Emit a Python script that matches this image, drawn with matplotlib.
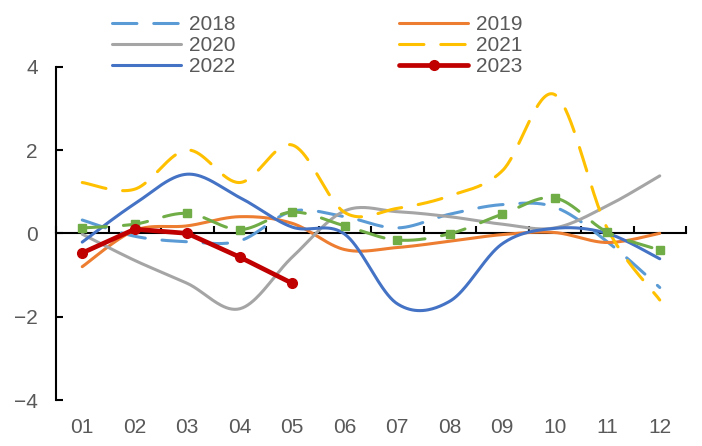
import numpy as np
import matplotlib
matplotlib.use("Agg")
import matplotlib.pyplot as plt

months = ['01', '02', '03', '04', '05', '06', '07', '08', '09', '10', '11', '12']
y2018 = [0.32, -0.07, -0.20, -0.18, 0.53, 0.40, 0.13, 0.46, 0.69, 0.63, -0.20, -1.30]
y2019 = [-0.80, 0.07, 0.18, 0.40, 0.24, -0.39, -0.34, -0.19, -0.03, 0.02, -0.22, 0.00]
y2020 = [-0.02, -0.65, -1.20, -1.81, -0.57, 0.54, 0.52, 0.40, 0.22, 0.13, 0.66, 1.38]
y2021 = [1.22, 1.06, 2.00, 1.22, 2.12, 0.50, 0.60, 0.90, 1.50, 3.33, 0.12, -1.60]
y2022 = [-0.21, 0.71, 1.42, 0.86, 0.15, -0.02, -1.69, -1.63, -0.25, 0.12, 0.00, -0.61]
y2023 = [-0.47, 0.10, 0.00, -0.57, -1.20]
yavg = [0.13, 0.22, 0.48, 0.09, 0.51, 0.18, -0.16, -0.01, 0.46, 0.85, 0.03, -0.40]
yticks = [-4, -2, 0, 2, 4]

plt.rcParams['font.family'] = ['Liberation Sans', 'DejaVu Sans']


def smooth(x, y, n=40):
    P = np.column_stack([np.asarray(x, float), np.asarray(y, float)])
    out = []
    t = np.linspace(0, 1, n)[:, None]
    for i in range(len(P) - 1):
        p0 = P[i - 1] if i > 0 else P[i]
        p1, p2 = P[i], P[i + 1]
        p3 = P[i + 2] if i + 2 < len(P) else P[i + 1]
        c1 = p1 + (p2 - p0) / 6
        c2 = p2 - (p3 - p1) / 6
        seg = (1 - t) ** 3 * p1 + 3 * (1 - t) ** 2 * t * c1 + 3 * (1 - t) * t ** 2 * c2 + t ** 3 * p2
        out.append(seg if i == 0 else seg[1:])
    s = np.vstack(out)
    return s[:, 0], s[:, 1]


fig = plt.figure(figsize=(7.02, 4.46), dpi=100)
ax = fig.add_axes([56 / 702, 1 - 400 / 446, (686 - 56) / 702, (400 - 66.7) / 446])

x = np.arange(1, 13)
lw = 2.2
dash = (8, 5.5)

series = [
    ('2018', y2018, '#5B9BD5', True),
    ('2019', y2019, '#ED7D31', False),
    ('2020', y2020, '#A5A5A5', False),
    ('2021', y2021, '#FFC000', True),
    ('2022', y2022, '#4472C4', False),
]
handles = {}
for name, vals, col, dashed in series:
    sx, sy = smooth(x, vals)
    ln, = ax.plot(sx, sy, color=col, lw=lw, solid_capstyle='round',
                  dash_capstyle='round', label=name, zorder=3)
    if dashed:
        ln.set_dashes(dash)
    handles[name] = ln

# average (green) series
sx, sy = smooth(x, yavg)
ga, = ax.plot(sx, sy, color='#70AD47', lw=lw, dash_capstyle='round', zorder=4)
ga.set_dashes(dash)
ax.plot(x, yavg, ls='none', marker='s', ms=6, color='#70AD47', zorder=4)

# 2023
r, = ax.plot(x[:len(y2023)], y2023, color='#C00000', lw=3.4, marker='o', ms=7,
             solid_capstyle='round', label='2023', zorder=5)
handles['2023'] = r

ax.set_xlim(0.5, 12.5)
ax.set_ylim(-4, 4)
ax.set_xticks(x)
ax.set_xticklabels(months)
ax.set_yticks(yticks)
ax.set_yticklabels([str(v).replace('-', '\u2212') for v in yticks])

for s in ['top', 'right', 'bottom']:
    ax.spines[s].set_visible(False)
ax.spines['left'].set_linewidth(1.5)
ax.tick_params(axis='y', direction='in', length=5, width=1.5, pad=13,
               labelsize=15, labelcolor='#595959')
ax.tick_params(axis='x', length=0, pad=13, labelsize=15, labelcolor='#595959')

sec = ax.secondary_xaxis(0.5)
sec.set_xticks(np.arange(0.5, 13, 1.0), labels=[''] * 13)
sec.tick_params(axis='x', which='both', direction='in', length=5, width=1.5,
                bottom=True, top=False, labelbottom=False, labeltop=False)
for s in sec.spines.values():
    s.set_linewidth(1.5)

order = ['2018', '2020', '2022', '2019', '2021', '2023']
fig.legend([handles[k] for k in order], order, loc='upper left', ncol=2,
           bbox_to_anchor=(112 / 702, 1 - 15 / 446), frameon=False,
           fontsize=15, labelcolor='#595959', handlelength=3.3,
           handletextpad=0.4, columnspacing=7.85, labelspacing=0.1,
           borderpad=0, borderaxespad=0)

fig.savefig('out.png', dpi=100)
